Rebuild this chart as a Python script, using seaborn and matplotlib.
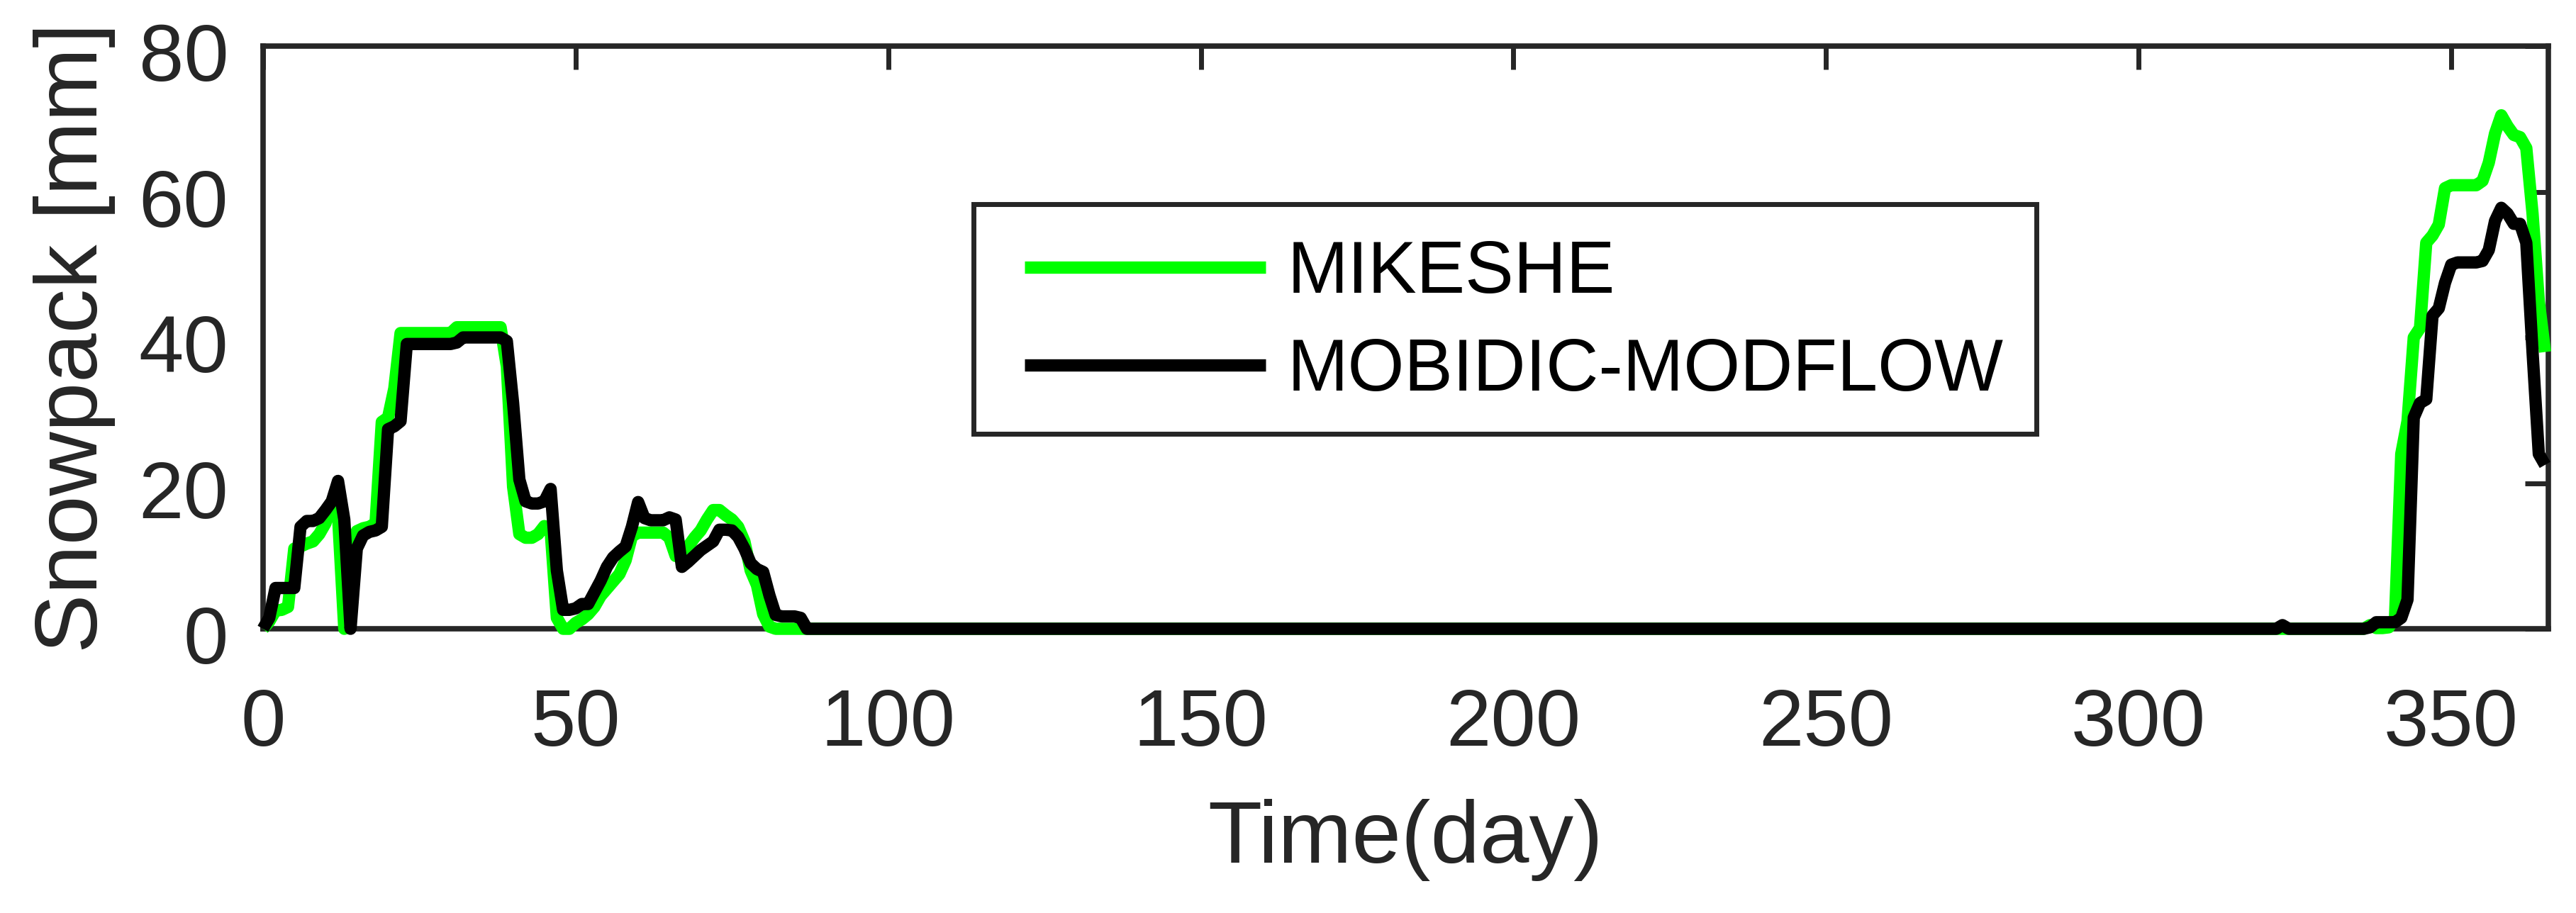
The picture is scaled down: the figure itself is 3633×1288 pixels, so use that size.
"""Snowpack comparison: MIKESHE vs MOBIDIC-MODFLOW over one year (daily)."""

import matplotlib

matplotlib.use("Agg")
import matplotlib.pyplot as plt
import matplotlib.transforms as mtransforms
import pandas as pd
import seaborn as sns
from matplotlib.patches import Rectangle

# ---- data -----------------------------------------------------------------
# day index: early-season block, a tiny bump near day 323, late-season block
DAY = list(range(0, 91)) + [322, 323, 324] + list(range(336, 366))

MIKESHE = [
    0, 1.0, 2.5, 2.6, 3.0, 11.0, 11.3, 11.7, 12.0, 13.0,          # 0-9
    14.5, 17.5, 15.5, 0, 1.0, 13.4, 13.8, 14.0, 14.5, 28.4,       # 10-19
    29.0, 33.0, 40.6, 40.6, 40.6, 40.6, 40.6, 40.6, 40.6, 40.6,   # 20-29
    40.6, 41.4, 41.4, 41.4, 41.4, 41.4, 41.4, 41.4, 41.4, 36.0,   # 30-39
    19.5, 13.0, 12.5, 12.5, 13.0, 14.1, 13.5, 1.5, 0, 0,          # 40-49
    0.8, 1.3, 2.0, 3.0, 4.5, 5.5, 6.5, 7.5, 9.4, 12.7,            # 50-59
    13.2, 13.2, 13.2, 13.2, 13.2, 12.5, 10.0, 10.2, 11.3, 12.5,   # 60-69
    13.5, 15.0, 16.3, 16.3, 15.6, 15.0, 14.0, 12.0, 8.0, 6.0,     # 70-79
    2.0, 0.3, 0, 0, 0, 0, 0, 0, 0, 0,                             # 80-89
    0,                                                            # 90
    0, 0, 0,                                                      # 322-324
    0, 0.5, 0.1, 0.1, 0.2, 1.5, 24.0, 28.5, 40.0, 41.3,           # 336-345
    53.0, 54.0, 55.5, 60.5, 60.9, 60.9, 60.9, 60.9, 60.9, 61.5,   # 346-355
    64.0, 68.0, 70.5, 69.0, 67.8, 67.5, 66.0, 57.0, 45.0, 38.0,   # 356-365
]

MOBIDIC = [
    0, 1.5, 5.6, 5.6, 5.6, 5.6, 14.0, 14.8, 14.8, 15.2,           # 0-9
    16.3, 17.5, 20.3, 15.0, 0, 11.0, 12.8, 13.3, 13.5, 14.0,      # 10-19
    27.4, 27.8, 28.5, 39.1, 39.1, 39.1, 39.1, 39.1, 39.1, 39.1,   # 20-29
    39.1, 39.3, 40.0, 40.0, 40.0, 40.0, 40.0, 40.0, 40.0, 39.5,   # 30-39
    31.0, 20.5, 17.5, 17.2, 17.2, 17.5, 19.2, 8.0, 2.6, 2.6,      # 40-49
    2.8, 3.4, 3.4, 5.0, 6.6, 8.5, 9.8, 10.6, 11.3, 14.0,          # 50-59
    17.4, 15.2, 14.9, 14.9, 14.9, 15.3, 15.0, 8.5, 9.2, 10.0,     # 60-69
    10.8, 11.4, 12.0, 13.6, 13.6, 13.5, 12.6, 11.0, 9.0, 8.2,     # 70-79
    7.8, 4.6, 1.9, 1.7, 1.7, 1.7, 1.5, 0, 0, 0,                   # 80-89
    0,                                                            # 90
    0, 0.5, 0,                                                    # 322-324
    0, 0.2, 0.9, 0.9, 0.9, 0.9, 1.5, 4.0, 29.0, 31.0,             # 336-345
    31.5, 43.0, 44.0, 47.5, 50.0, 50.3, 50.3, 50.3, 50.3, 50.5,   # 346-355
    52.0, 56.0, 57.8, 57.0, 55.6, 55.6, 53.0, 38.0, 24.0, 22.5,   # 356-365
]

MODELS = ["MIKESHE", "MOBIDIC-MODFLOW"]
COLORS = {"MIKESHE": "#00ff00", "MOBIDIC-MODFLOW": "#000000"}
XTICKS = [0, 50, 100, 150, 200, 250, 300, 350]
YTICKS = [0, 20, 40, 60, 80]

INK = "#262626"

sns.set_theme(style="white")
plt.rcParams["font.family"] = ["Liberation Sans", "DejaVu Sans"]


def main() -> None:
    df = pd.DataFrame({
        "day": DAY + DAY,
        "snow": MIKESHE + MOBIDIC,
        "model": [MODELS[0]] * len(DAY) + [MODELS[1]] * len(DAY),
    })

    fig = plt.figure(figsize=(36.33, 12.88), dpi=100)
    ax = fig.add_axes([0.1021, 0.3113, 0.8871, 0.6382])

    sns.lineplot(data=df, x="day", y="snow", hue="model", hue_order=MODELS,
                 palette=COLORS, linewidth=12.5, legend=False, ax=ax,
                 solid_joinstyle="round", solid_capstyle="butt",
                 clip_on=False, zorder=3)

    ax.set_xlim(0, 365.5)
    ax.set_ylim(0, 80)
    ax.set_xticks(XTICKS)
    ax.set_yticks(YTICKS)
    ax.tick_params(axis="both", direction="in", length=24, width=5,
                   colors=INK, labelsize=82, top=True, right=True)
    ax.tick_params(axis="x", pad=60)
    ax.tick_params(axis="y", pad=35)
    for sp in ax.spines.values():
        sp.set_color(INK)
        sp.set_linewidth(5.5)

    # y tick labels sit a little below their ticks in the original
    nudge = mtransforms.ScaledTranslation(0, -0.08, fig.dpi_scale_trans)
    for lab in ax.get_yticklabels():
        lab.set_transform(lab.get_transform() + nudge)

    ax.set_xlabel("Time(day)", fontsize=90, color=INK)
    ax.set_ylabel("Snowpack [mm]", fontsize=90, color=INK)
    ax.xaxis.set_label_coords(0.5, -0.292)
    ax.yaxis.set_label_coords(-0.0645, 0.5)

    # legend frame drawn separately so its padding matches the original box
    ax.add_patch(Rectangle((0.311, 0.335), 0.465, 0.394, transform=ax.transAxes,
                           facecolor="white", edgecolor=INK, linewidth=5,
                           zorder=4))
    leg = ax.legend(ax.lines[:2], MODELS, loc="center left",
                    bbox_to_anchor=(0.3332, 0.525), frameon=False, fontsize=74,
                    handlelength=3.31, handletextpad=0.3, labelspacing=0.4,
                    borderpad=0, borderaxespad=0, labelcolor="black")
    leg.set_zorder(5)

    fig.savefig("out.png", dpi=100, facecolor="white")
    plt.close(fig)


if __name__ == "__main__":
    main()
